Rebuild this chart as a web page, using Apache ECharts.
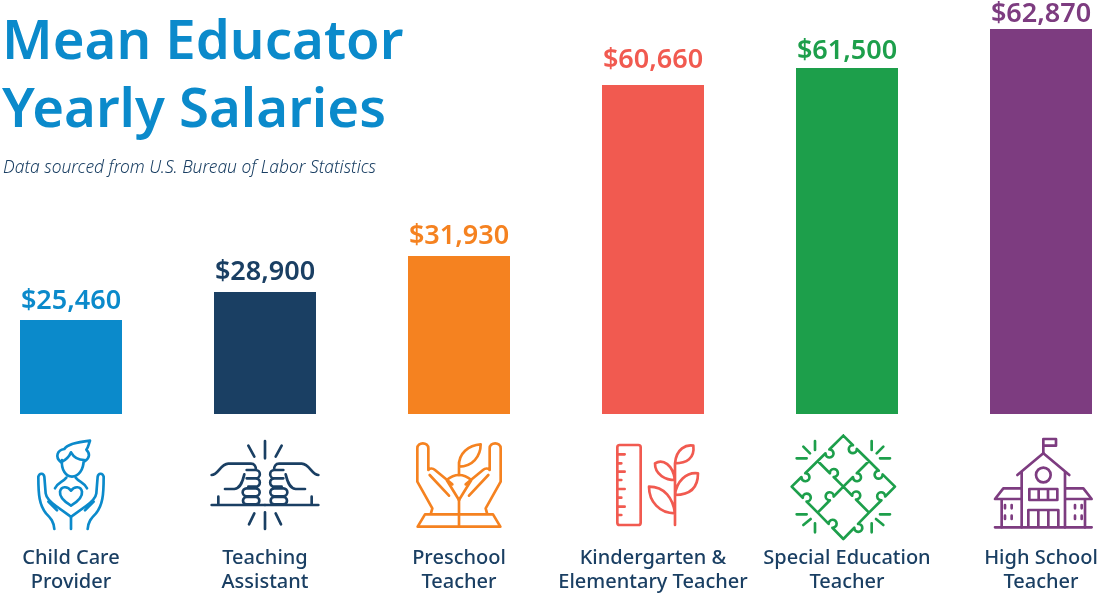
<!DOCTYPE html>
<html>
<head>
<meta charset="utf-8">
<title>Mean Educator Yearly Salaries</title>
<style>
html, body { margin: 0; padding: 0; background: #fff; }
#chart { width: 1099px; height: 593px; }
</style>
<script src="https://cdn.jsdelivr.net/npm/echarts@6/dist/echarts.min.js"></script>
</head>
<body>
<div id="chart"></div>
<script>
var categories = ['Child Care\nProvider', 'Teaching\nAssistant', 'Preschool\nTeacher', 'Kindergarten &\nElementary Teacher', 'Special Education\nTeacher', 'High School\nTeacher'];
// printed salaries
var salaries = [25460, 28900, 31930, 60660, 61500, 62870];
// the bars in the picture are not proportional to the salaries, so these are the drawn heights
var barHeights = [94, 122, 158, 329, 346, 385];
var barColors = ['#0b8acb', '#1a3f63', '#f58220', '#f15a50', '#1d9f4b', '#7d3c80'];
var labelGaps = [5, 6, 6, 11, 3, 1];
var textFont = '"Noto Sans"';

// straight edge with a puzzle knob part way along it
function knob(x1, y1, x2, y2, t, sweep) {
    var dx = x2 - x1, dy = y2 - y1, len = Math.sqrt(dx * dx + dy * dy);
    var ux = dx / len, uy = dy / len, gap = 8;
    var ax = x1 + dx * t - ux * gap, ay = y1 + dy * t - uy * gap;
    var bx = x1 + dx * t + ux * gap, by = y1 + dy * t + uy * gap;
    return 'M' + x1 + ' ' + y1 + ' L' + ax + ' ' + ay + ' A12 12 0 1 ' + sweep + ' ' + bx + ' ' + by + ' L' + x2 + ' ' + y2 + ' ';
}

var puzzle = knob(0, 32, -77, 108, 0.62, 1) + knob(-77, 108, -155, 185, 0.55, 1) +
    knob(-155, 185, -77, 263, 0.5, 1) + knob(-77, 263, 0, 342, 0.5, 1) +
    knob(0, 342, 77, 263, 0.5, 0) + knob(77, 263, 155, 185, 0.55, 1) +
    knob(155, 185, 77, 108, 0.55, 1) + knob(77, 108, 0, 32, 0.55, 1) +
    knob(-77, 108, 0, 185, 0.55, 1) + knob(0, 185, 77, 263, 0.42, 1) +
    knob(77, 108, 0, 185, 0.55, 1) + knob(0, 185, -77, 263, 0.45, 0);

// icon outlines, drawn at 3x around the bar centre. mirror paths are repeated flipped
var icons = [
    { dx: 0,
      paths: 'M-30 112 C-50 95 -40 75 -20 72 C-10 55 30 50 57 47 C52 60 52 68 46 74 C58 85 56 100 42 108 ' +
             'M-30 112 C-15 105 -5 95 0 82 C10 100 25 105 40 105 ' +
             'M-27 105 C-30 135 -15 155 3 155 C22 155 38 135 38 105 ' +
             'M0 242 C-20 230 -35 215 -33 200 C-30 183 -10 183 0 197 C10 183 30 183 33 200 C35 215 20 230 0 242 Z ' +
             'M0 275 L0 312',
      mirror: 'M-48 190 C-40 172 -25 172 -14 158 ' +
              'M-50 312 C-52 290 -60 280 -75 265 C-95 240 -98 210 -98 155 C-94 142 -82 145 -80 155 L-76 205 C-74 220 -60 232 -45 243 L-5 272 C-2 275 0 275 0 275 ' +
              'M-68 230 L-42 256' },
    { dx: 0,
      paths: 'M0 48 L0 100 M0 262 L0 312',
      mirror: 'M-50 62 L-32 95 M-48 298 L-32 265 M-160 240 L0 240 M-140 215 L-140 240 ' +
              'M-160 150 C-140 150 -135 118 -110 116 L-42 116 C-32 116 -27 125 -27 135 ' +
              'M-55 135 L-28 135 A12.5 12.5 0 0 1 -28 160 L-55 160 M-50 160 L-28 160 A12.5 12.5 0 0 1 -28 185 L-50 185 ' +
              'M-55 190 L-28 190 A12 12 0 0 1 -28 214 L-55 214 A12 12 0 0 1 -55 190 ' +
              'M-55 216 L-28 216 A11 11 0 0 1 -28 238 L-55 238 A11 11 0 0 1 -55 216 ' +
              'M-120 192 L-92 192 C-72 190 -66 165 -62 148' },
    { dx: 0,
      paths: 'M0 150 L0 112 M0 125 C-3 85 30 60 65 58 C65 95 40 125 0 125 Z M0 225 L0 305',
      mirror: 'M0 305 L-124 305 L-102 268 L0 268 ' +
              'M-85 268 L-80 250 L-125 170 L-125 70 C-125 50 -92 50 -92 70 L-92 135 C-88 128 -78 130 -72 135 L-20 178 ' +
              'M-88 150 L-30 212 M-37 165 L0 225 M-37 165 C-25 155 -12 150 0 150' },
    { dx: 0,
      paths: 'M-100 60 L-44 60 Q-37 60 -37 67 L-37 293 Q-37 300 -44 300 L-100 300 Q-107 300 -107 293 L-107 67 Q-107 60 -100 60 Z ' +
             'M-107 88 L-85 88 M-107 115 L-95 115 M-107 140 L-85 140 M-107 165 L-95 165 M-107 192 L-85 192 M-107 218 L-95 218 M-107 245 L-85 245 M-107 270 L-95 270 ' +
             'M66 300 L66 115 M66 115 C70 70 100 58 121 62 C126 100 100 115 66 115 Z ' +
             'M66 165 C40 165 5 150 6 115 C30 100 60 120 66 165 Z ' +
             'M66 210 C70 170 100 140 135 145 C135 190 110 210 66 210 Z ' +
             'M66 265 C20 265 -12 230 -12 185 C35 185 60 220 66 265 Z',
      mirror: '' },
    { dx: -11,
      paths: puzzle,
      mirror: 'M-140 100 L-110 100 M-120 65 L-100 85 M-85 48 L-85 75 M-140 268 L-110 268 M-120 300 L-98 282 M-85 295 L-85 322' },
    { dx: 7,
      paths: 'M0 85 L0 42 L38 42 L38 62 L0 62 ' +
             'M22 150 A22 22 0 1 1 -22 150 A22 22 0 1 1 22 150 Z ' +
             'M-42 192 L42 192 L42 225 L-42 225 Z M-14 192 L-14 225 M14 192 L14 225 ' +
             'M-45 307 L-45 255 L45 255 L45 307 M-15 255 L-15 307 M15 255 L15 307 M-145 307 L145 307',
      mirror: 'M0 85 L-78 150 M-65 140 L-65 307 M-65 190 L-120 190 L-145 222 L-65 222 M-125 222 L-125 307 ' +
              'M-115 240 L-115 250 M-95 240 L-95 250 M-115 272 L-115 282 M-95 272 L-95 282' }
];

var myChart = echarts.init(document.getElementById('chart'));

var option = {
    animation: false,
    backgroundColor: '#fff',
    title: [{
        text: 'Mean Educator\nYearly Salaries',
        left: 2,
        top: 9,
        padding: 0,
        textStyle: { color: '#0b8acb', fontFamily: textFont, fontSize: 54.5, fontWeight: 600, lineHeight: 68 }
    }, {
        text: 'Data sourced from U.S. Bureau of Labor Statistics',
        left: 3,
        top: 160,
        padding: 0,
        textStyle: { color: '#1a3f63', fontFamily: textFont, fontSize: 17.4, fontWeight: 300, fontStyle: 'italic' }
    }],
    // points sit on the bar centres, 194px apart
    grid: { left: 71, right: 58, top: 0, bottom: 179, outerBoundsMode: 'none' },
    xAxis: {
        type: 'category',
        boundaryGap: false,
        data: categories,
        axisLine: { show: false },
        axisTick: { show: false },
        axisLabel: {
            interval: 0,
            margin: 132,
            color: '#1a3f63',
            fontFamily: textFont,
            fontSize: 20,
            fontWeight: 500,
            lineHeight: 24
        }
    },
    yAxis: { type: 'value', min: 0, max: 414, show: false },
    series: [{
        type: 'bar',
        barWidth: 102,
        data: barHeights.map(function(h, i) {
            return {
                value: h,
                itemStyle: { color: barColors[i] },
                label: { color: barColors[i], distance: labelGaps[i] }
            };
        }),
        label: {
            show: true,
            position: 'top',
            fontFamily: textFont,
            fontSize: 27,
            fontWeight: 600,
            formatter: function(params) {
                return '$' + salaries[params.dataIndex].toLocaleString('en-US');
            }
        }
    }]
};
myChart.setOption(option);

// icons sit under the bars, positioned from the category axis
var elements = [];
function addIcon(d, name, cx, flip, color) {
    if (!d) return;
    echarts.graphic.registerShape(name, echarts.graphic.extendPath(d));
    elements.push({
        type: name,
        x: cx,
        y: 425,
        scaleX: flip ? -1 / 3 : 1 / 3,
        scaleY: 1 / 3,
        style: { fill: 'none', stroke: color, lineWidth: 8, lineCap: 'round', lineJoin: 'round' },
        silent: true
    });
}
icons.forEach(function(icon, i) {
    var cx = myChart.convertToPixel({ xAxisIndex: 0 }, i) + icon.dx / 3;
    addIcon(icon.paths, 'iconMain' + i, cx, false, barColors[i]);
    addIcon(icon.mirror, 'iconMirror' + i, cx, false, barColors[i]);
    addIcon(icon.mirror, 'iconMirror' + i, cx, true, barColors[i]);
});
myChart.setOption({ graphic: { elements: elements } });
</script>
</body>
</html>
